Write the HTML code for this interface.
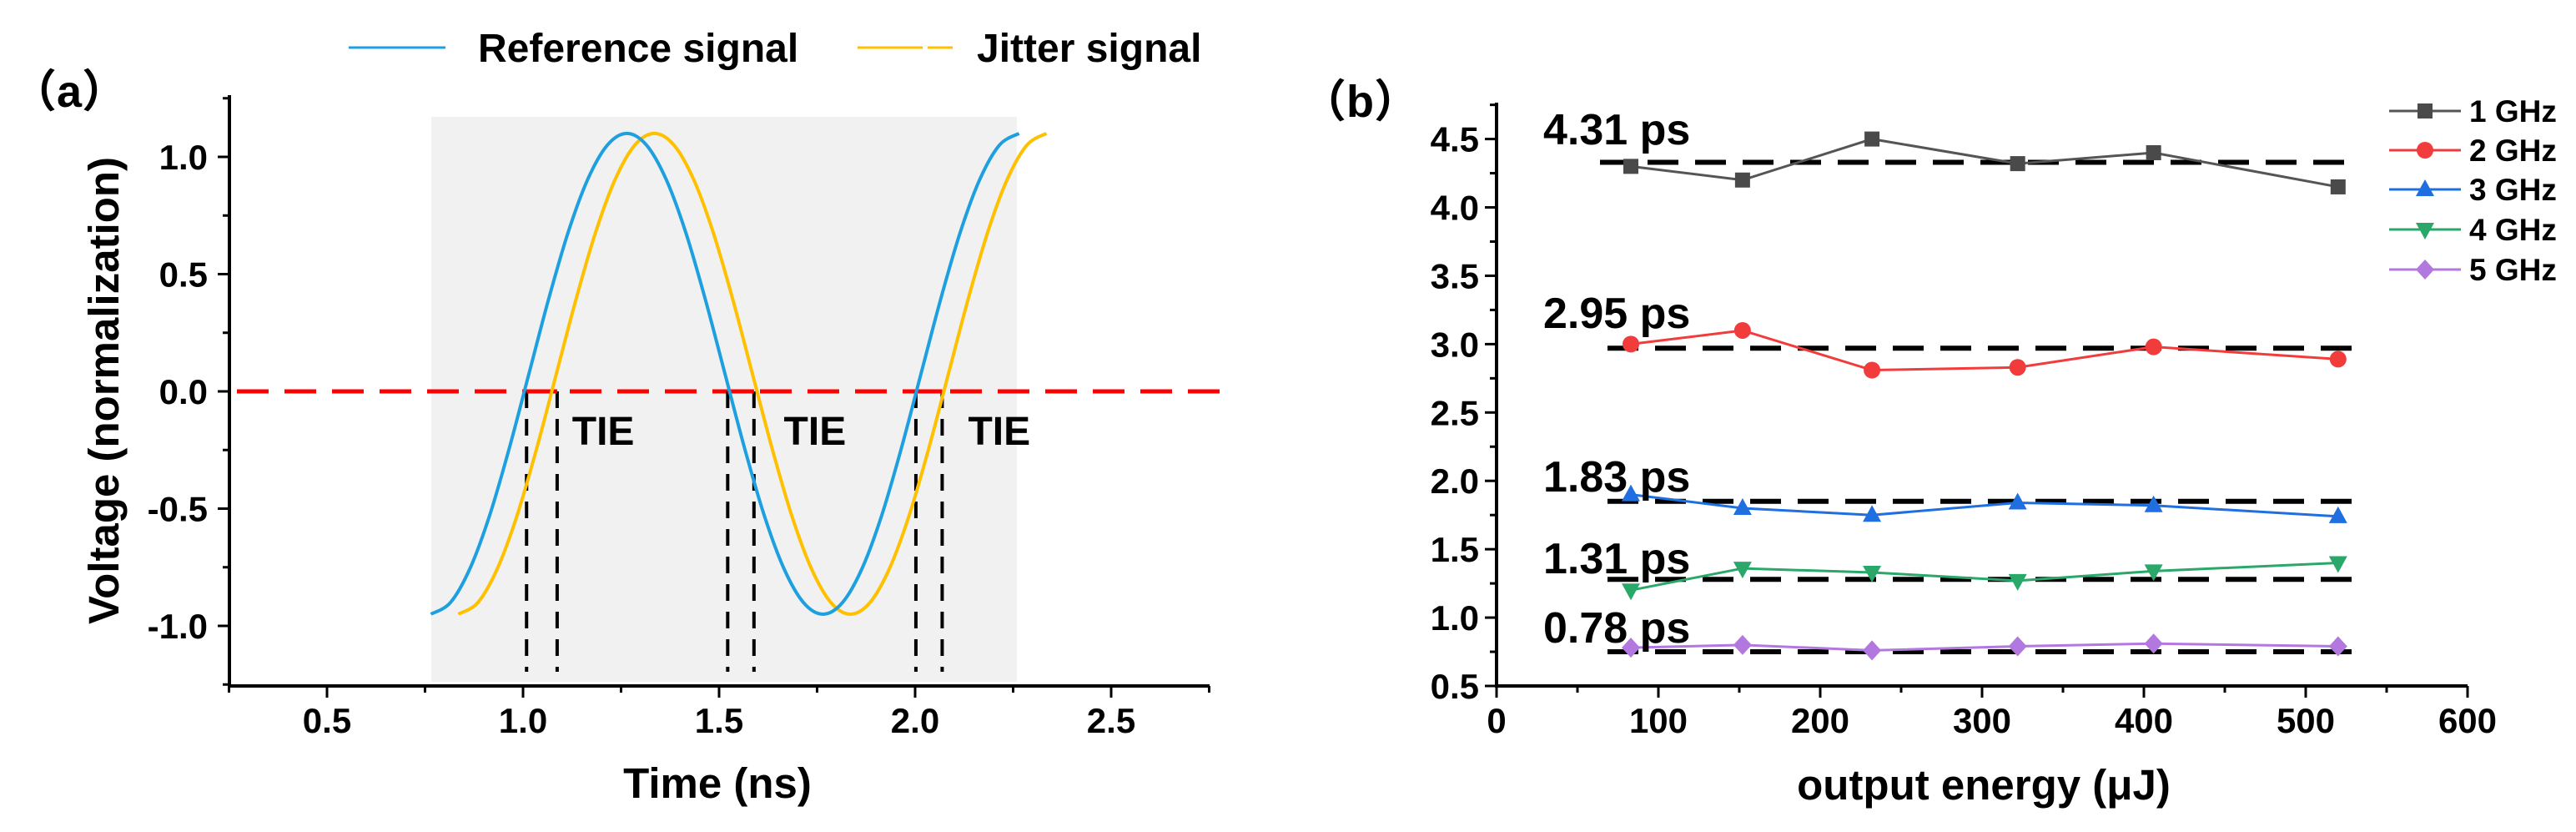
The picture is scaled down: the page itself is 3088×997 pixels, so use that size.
<!DOCTYPE html>
<html><head><meta charset="utf-8"><style>
html,body{margin:0;padding:0;background:#fff;}
svg{display:block;font-family:"Liberation Sans","Noto Sans CJK SC",sans-serif;font-weight:bold;}
</style></head><body>
<svg id="fig" width="3088" height="997" viewBox="0 0 3088 997" xmlns="http://www.w3.org/2000/svg">
<g id="pa"></g>
<g id="pb"></g>
</svg>
<script>
// ---- Panel (a) data ----
const refStart = 0.765, jitStart = 0.835, tStep = 0.05;
const refVolt = [-0.95,-0.90,-0.754,-0.528,-0.242,0.075,0.392,0.678,0.904,1.05,1.10,1.05,0.904,0.678,0.392,0.075,-0.242,-0.528,-0.754,-0.90,-0.95,-0.90,-0.754,-0.528,-0.242,0.075,0.392,0.678,0.904,1.05,1.10];
const jitVolt = [-0.95,-0.90,-0.754,-0.528,-0.242,0.075,0.392,0.678,0.904,1.05,1.10,1.05,0.904,0.678,0.392,0.075,-0.242,-0.528,-0.754,-0.90,-0.95,-0.90,-0.754,-0.528,-0.242,0.075,0.392,0.678,0.904,1.05,1.10];
const tieTimes = [1.009,1.087,1.522,1.589,2.002,2.069];
const tieLabelTimes = [1.125,1.665,2.135];
const aXTicks = [0.5,1.0,1.5,2.0,2.5];
const aXTickLabels = ["0.5","1.0","1.5","2.0","2.5"];
const aYTicks = [-1.0,-0.5,0.0,0.5,1.0];
const aYTickLabels = ["-1.0","-0.5","0.0","0.5","1.0"];

// ---- Panel (b) data ----
const energy = [83,152,232,322,406,520];
const seriesNames = ["1 GHz","2 GHz","3 GHz","4 GHz","5 GHz"];
const s1 = [4.30,4.20,4.50,4.32,4.40,4.15];
const s2 = [3.00,3.10,2.81,2.83,2.98,2.89];
const s3 = [1.90,1.80,1.75,1.84,1.82,1.74];
const s4 = [1.20,1.36,1.33,1.27,1.34,1.40];
const s5 = [0.78,0.80,0.76,0.79,0.81,0.79];
const meanVals = [4.33,2.97,1.85,1.28,0.75];
const meanLabels = ["4.31 ps","2.95 ps","1.83 ps","1.31 ps","0.78 ps"];
const bXTicks = [0,100,200,300,400,500,600];
const bXTickLabels = ["0","100","200","300","400","500","600"];
const bYTicks = [0.5,1.0,1.5,2.0,2.5,3.0,3.5,4.0,4.5];
const bYTickLabels = ["0.5","1.0","1.5","2.0","2.5","3.0","3.5","4.0","4.5"];

const NS="http://www.w3.org/2000/svg";
function mk(parent,tag,attrs,text){const e=document.createElementNS(NS,tag);for(const k in attrs)e.setAttribute(k,attrs[k]);if(text!==undefined)e.textContent=text;parent.appendChild(e);return e;}
function smooth(pts){let d="M"+pts[0][0]+","+pts[0][1];for(let i=0;i<pts.length-1;i++){const p0=pts[i-1]||pts[i],p1=pts[i],p2=pts[i+1],p3=pts[i+2]||p2;d+=" C"+(p1[0]+(p2[0]-p0[0])/6)+","+(p1[1]+(p2[1]-p0[1])/6)+" "+(p2[0]-(p3[0]-p1[0])/6)+","+(p2[1]-(p3[1]-p1[1])/6)+" "+p2[0]+","+p2[1];}return d;}

// ===== Panel a =====
const pa=document.getElementById('pa');
const ax=t=>392+(t-0.5)*470;
const ay=v=>469-v*281;
const aL=275,aR=1450,aT=114,aB=822;
let e;
e=mk(pa,'rect',{x:517,y:140,width:702,height:677,fill:'#f1f1f1'});


e=mk(pa,'line',{x1:284,y1:ay(0),x2:1468,y2:ay(0),stroke:'#ff0000','stroke-width':5,'stroke-dasharray':'38 19'});


tieTimes.forEach(t=>{e=mk(pa,'line',{x1:ax(t),y1:ay(0),x2:ax(t),y2:805,stroke:'#000','stroke-width':4,'stroke-dasharray':'20 13'});

});
tieTimes.forEach((t,i)=>{if(i%2===0){e=mk(pa,'line',{x1:ax(t),y1:ay(0),x2:ax(tieTimes[i+1]),y2:ay(0),stroke:'#ff0000','stroke-width':5});

}});
const refPts=refVolt.map((v,i)=>[ax(refStart+i*tStep),ay(v)]);
const jitPts=jitVolt.map((v,i)=>[ax(jitStart+i*tStep),ay(v)]);
e=mk(pa,'path',{d:smooth(jitPts),fill:'none',stroke:'#ffc000','stroke-width':4});


e=mk(pa,'path',{d:smooth(refPts),fill:'none',stroke:'#1ea0e0','stroke-width':4});


tieLabelTimes.forEach(t=>{e=mk(pa,'text',{x:ax(t),y:533,'font-size':48,fill:'#000'},'TIE');

});
// axes
e=mk(pa,'path',{d:`M${aL},${aT} V${aB} H${aR}`,fill:'none',stroke:'#000','stroke-width':4});


for(let t=0.25;t<=2.76;t+=0.25){const major=Math.abs(t*2-Math.round(t*2))<1e-6;mk(pa,'line',{x1:ax(t),y1:aB,x2:ax(t),y2:aB+(major?14:8),stroke:'#000','stroke-width':3});}
for(let v=-1.25;v<=1.26;v+=0.25){const major=Math.abs(v*2-Math.round(v*2))<1e-6;mk(pa,'line',{x1:aL,y1:ay(v),x2:aL-(major?14:8),y2:ay(v),stroke:'#000','stroke-width':3});}
aXTicks.forEach((t,i)=>{e=mk(pa,'text',{x:ax(t),y:878,'font-size':42,'text-anchor':'middle'},aXTickLabels[i]);

});
aYTicks.forEach((v,i)=>{e=mk(pa,'text',{x:249,y:ay(v)+15,'font-size':42,'text-anchor':'end'},aYTickLabels[i]);

});
e=mk(pa,'text',{x:860,y:956,'font-size':51,'text-anchor':'middle'},'Time (ns)');


e=mk(pa,'text',{x:0,y:0,'font-size':51,'text-anchor':'middle',transform:'translate(142,468) rotate(-90)'},'Voltage (normalization)');


e=mk(pa,'text',{x:14,y:128,'font-size':54,'font-weight':'bold'},'（a）');


// legend a
e=mk(pa,'line',{x1:418,y1:57,x2:534,y2:57,stroke:'#1ea0e0','stroke-width':3});


e=mk(pa,'text',{x:573,y:74,'font-size':48},'Reference signal');


e=mk(pa,'line',{x1:1028,y1:57,x2:1142,y2:57,stroke:'#ffc000','stroke-width':3,'stroke-dasharray':'78 6 30'});


e=mk(pa,'text',{x:1171,y:74,'font-size':48},'Jitter signal');



// ===== Panel b =====
const pb=document.getElementById('pb');
const bx=v=>1794+v*1.94;
const by=v=>822-(v-0.5)*163.85;
const bL=1794,bR=2958,bT=123,bB=822;
const series=[s1,s2,s3,s4,s5];
const colors=['#555555','#f23c3c','#1f6fe0','#2aa86a','#b278e0'];
const mcolors=['#4a4a4a','#f23c3c','#1f6fe0','#2aa86a','#b278e0'];
const shapes=['square','circle','tri','dtri','diamond'];
function marker(g,shape,x,y,c,s){
  if(shape==='square')return mk(g,'rect',{x:x-9,y:y-9,width:18,height:18,fill:c});
  if(shape==='circle')return mk(g,'circle',{cx:x,cy:y,r:10,fill:c});
  if(shape==='tri')return mk(g,'polygon',{points:`${x},${y-12} ${x-11},${y+8} ${x+11},${y+8}`,fill:c});
  if(shape==='dtri')return mk(g,'polygon',{points:`${x},${y+12} ${x-11},${y-8} ${x+11},${y-8}`,fill:c});
  return mk(g,'polygon',{points:`${x},${y-12} ${x+11},${y} ${x},${y+12} ${x-11},${y}`,fill:c});
}
meanVals.forEach((v,i)=>{e=mk(pb,'line',{x1:i===0?1918:1927,y1:by(v),x2:2830,y2:by(v),stroke:'#000','stroke-width':6,'stroke-dasharray':'37 20'});

});
series.forEach((s,k)=>{
  const g=mk(pb,'g',{});
  
  
  mk(g,'polyline',{points:s.map((v,i)=>bx(energy[i])+','+by(v)).join(' '),fill:'none',stroke:colors[k],'stroke-width':3});
  s.forEach((v,i)=>{const m=marker(g,shapes[k],bx(energy[i]),by(v),mcolors[k]);
  
  });
});
const labelY=[173,393,589,687,770];
meanLabels.forEach((t,i)=>{e=mk(pb,'text',{x:1850,y:labelY[i],'font-size':52},t);

});
e=mk(pb,'path',{d:`M${bL},${bT} V${bB} H${bR}`,fill:'none',stroke:'#000','stroke-width':4});


for(let v=0;v<=600;v+=50){const major=v%100===0;mk(pb,'line',{x1:bx(v),y1:bB,x2:bx(v),y2:bB+(major?14:8),stroke:'#000','stroke-width':3});}
for(let v=0.5;v<=4.76;v+=0.25){const major=Math.abs(v*2-Math.round(v*2))<1e-6;mk(pb,'line',{x1:bL,y1:by(v),x2:bL-(major?14:8),y2:by(v),stroke:'#000','stroke-width':3});}
bXTicks.forEach((v,i)=>{e=mk(pb,'text',{x:bx(v),y:878,'font-size':42,'text-anchor':'middle'},bXTickLabels[i]);

});
bYTicks.forEach((v,i)=>{e=mk(pb,'text',{x:1773,y:by(v)+15,'font-size':42,'text-anchor':'end'},bYTickLabels[i]);

});
e=mk(pb,'text',{x:2378,y:958,'font-size':51,'text-anchor':'middle'},'output energy (μJ)');


e=mk(pb,'text',{x:1560,y:140,'font-size':54,'font-weight':'bold'},'（b）');


const legY=[133,180,227,275,323];
seriesNames.forEach((n,k)=>{
  const g=mk(pb,'g',{});
  
  
  mk(g,'line',{x1:2864,y1:legY[k],x2:2950,y2:legY[k],stroke:colors[k],'stroke-width':3});
  marker(g,shapes[k],2907,legY[k],mcolors[k]);
  mk(g,'text',{x:2960,y:legY[k]+13,'font-size':37},n);
});
</script>
</body></html>
